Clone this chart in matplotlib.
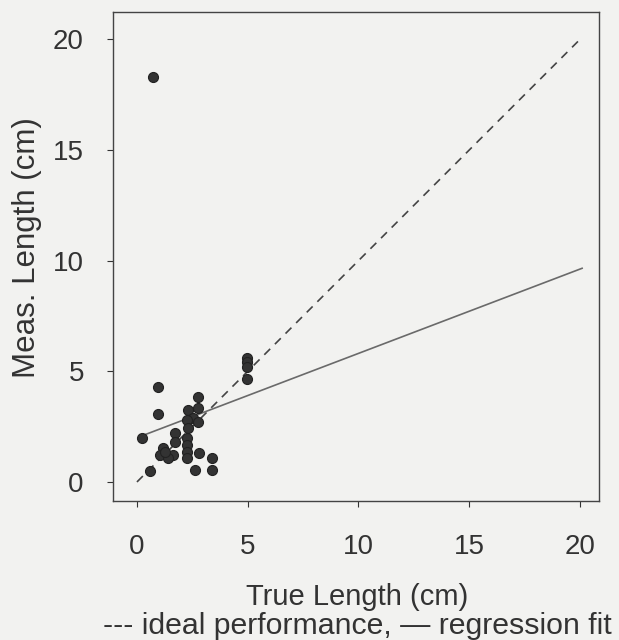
import matplotlib
matplotlib.use("Agg")
import matplotlib.pyplot as plt
import numpy as np

# True vs. measured flaw lengths (cm)
true_len = [0.72, 0.96, 0.96, 0.21, 0.59,
            4.95, 4.95, 4.95, 4.95,
            2.77, 2.32, 2.77, 2.54, 2.24, 2.77, 2.32,
            2.24, 2.24, 2.24, 2.24,
            2.81, 2.62, 3.37, 3.37,
            1.72, 1.72, 1.19, 1.04, 1.64, 1.41, 1.25]
meas_len = [18.3, 4.3, 3.06, 2.0, 0.5,
            5.6, 5.4, 5.2, 4.65,
            3.85, 3.25, 3.33, 2.88, 2.8, 2.73, 2.42,
            1.97, 1.67, 1.37, 1.07,
            1.3, 0.54, 1.07, 0.56,
            2.2, 1.82, 1.52, 1.22, 1.22, 1.07, 1.35]

# Regression fit parameters
fit_intercept = 2.0
fit_slope = 0.381
fit_x = [0.2, 20.1]
ideal_x = [0.0, 20.0]

x_ticks = [0, 5, 10, 15, 20]
y_ticks = [0, 5, 10, 15, 20]

plt.rcParams['font.family'] = ['Liberation Sans', 'DejaVu Sans']

bg = '#f2f2f0'
txt = '#333333'
fig = plt.figure(figsize=(6.19, 6.40), dpi=100, facecolor=bg)
ax = fig.add_axes([0.1826, 0.2172, 0.785, 0.764], facecolor=bg)

ax.plot(ideal_x, ideal_x, linestyle=(0, (5, 4)), color='#444444', lw=1.2)
fx = np.array(fit_x)
ax.plot(fx, fit_intercept + fit_slope * fx, color='#6a6a6a', lw=1.2)
ax.scatter(true_len, meas_len, s=52, color='#333333', edgecolors='#222222',
           linewidths=0.8, zorder=3)

ax.set_xlim(-1.08, 20.86)
ax.set_ylim(-0.86, 21.24)
ax.set_xticks(x_ticks)
ax.set_yticks(y_ticks)
ax.tick_params(axis='x', direction='out', length=4, pad=20, labelsize=20,
               colors=txt, width=0.8)
ax.tick_params(axis='y', direction='out', length=4, pad=17, labelsize=20,
               colors=txt, width=0.8)
for s in ax.spines.values():
    s.set_color('#444444')
    s.set_linewidth(1.0)

fig.text(0.577, 0.0547, 'True Length (cm)', fontsize=21, color=txt,
         ha='center', va='baseline')
fig.text(0.577, 0.0094, '--- ideal performance, \u2014 regression fit',
         fontsize=21.8, color=txt, ha='center', va='baseline')
fig.text(0.0436, 0.613, 'Meas. Length (cm)', fontsize=22.5, color=txt,
         ha='center', va='center', rotation=90)

fig.savefig('out.png', dpi=100, facecolor=bg)
